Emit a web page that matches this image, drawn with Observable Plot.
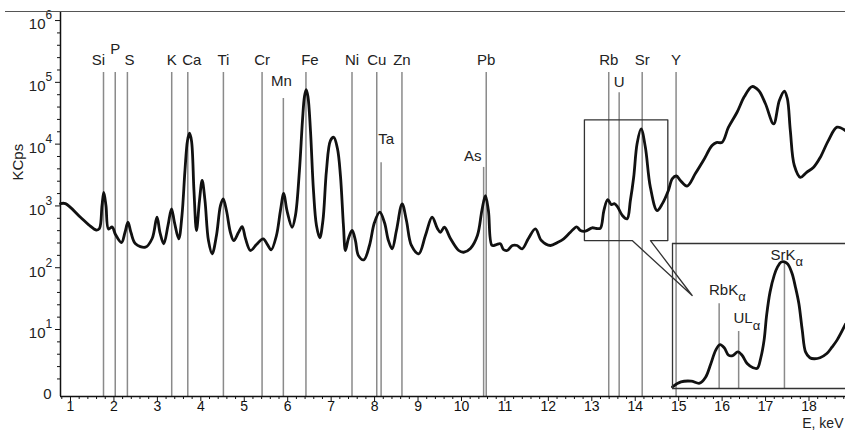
<!DOCTYPE html>
<html><head><meta charset="utf-8">
<script src="https://cdn.jsdelivr.net/npm/d3@7"></script>
<script src="https://cdn.jsdelivr.net/npm/@observablehq/plot@0.6"></script>
<style>
html,body{margin:0;padding:0;background:#fff;}
#chart{position:relative;width:845px;height:434px;overflow:hidden;font-family:"Liberation Sans",Arial,sans-serif;}
#topline{position:absolute;left:5px;top:11px;width:840px;height:0;border-top:1.5px solid #555;}
#inset{position:absolute;left:672px;top:243px;width:173px;height:145px;}
</style></head><body>
<div id="chart"><div id="topline"></div><div id="inset"></div></div>
<script>
// ---- main spectrum (keV, KCps) ----
const energy = [0.770,0.885,1.230,1.414,1.598,1.667,1.725,1.766,1.817,1.875,1.960,2.036,2.174,2.254,2.323,2.392,2.496,2.726,2.880,2.991,3.060,3.147,3.244,3.325,3.394,3.492,3.566,3.635,3.693,3.739,3.785,3.842,3.900,3.969,4.031,4.096,4.176,4.261,4.360,4.452,4.514,4.590,4.682,4.758,4.866,4.952,5.028,5.143,5.281,5.435,5.534,5.619,5.741,5.833,5.909,5.983,6.102,6.178,6.270,6.340,6.386,6.425,6.466,6.524,6.593,6.662,6.738,6.811,6.892,6.984,7.060,7.145,7.214,7.283,7.329,7.398,7.483,7.559,7.628,7.751,7.882,7.997,8.119,8.227,8.319,8.404,8.503,8.634,8.733,8.848,9.016,9.170,9.324,9.446,9.515,9.607,9.746,9.937,10.051,10.206,10.367,10.470,10.551,10.620,10.705,10.804,10.896,10.965,11.050,11.172,11.281,11.396,11.541,11.702,11.840,12.047,12.208,12.353,12.507,12.652,12.738,12.853,13.007,13.106,13.198,13.278,13.366,13.451,13.520,13.589,13.704,13.812,13.888,13.964,14.042,14.134,14.233,14.348,14.503,14.625,14.763,14.855,14.947,15.039,15.193,15.384,15.568,15.768,15.867,15.999,16.144,16.344,16.512,16.689,16.841,16.995,17.186,17.317,17.432,17.501,17.570,17.662,17.800,17.938,18.106,18.261,18.445,18.645,18.837];
const counts = [1090,1090,656,500,407,431,1010,1650,1010,423,456,344,256,371,545,371,244,215,297,656,371,244,482,898,538,294,700,3740,11400,15000,11400,1780,400,1220,2580,1220,275,168,332,1010,1300,843,371,275,371,464,297,190,237,294,237,195,332,843,1590,843,452,700,3740,24100,58900,76400,58900,16600,1780,482,305,581,3740,11400,12900,8490,3100,482,190,297,400,275,157,134,229,538,791,538,275,202,400,1080,581,229,168,332,656,431,375,452,297,190,178,205,332,843,1470,843,229,237,244,197,190,229,229,202,297,426,275,229,256,294,375,459,400,390,443,431,436,843,1260,1050,1090,977,700,618,1220,2910,10100,17700,8910,2010,843,1090,1780,2770,3050,2580,2100,3340,5430,9480,10600,10700,18600,32800,58900,85500,73600,45400,21300,50800,71800,54700,16600,4510,2910,3470,4230,6140,11400,18800,16600];

// ---- element lines ----
const elementNames  = ["Si","P","S","K","Ca","Ti","Cr","Mn","Fe","Ni","Cu","Ta","Zn","As","Pb","Rb","U","Sr","Y"];
const elementEnergy = [1.76,2.03,2.31,3.33,3.70,4.52,5.41,5.90,6.42,7.48,8.05,8.15,8.63,10.51,10.57,13.39,13.63,14.16,14.94];
const elementTop    = [144000,144000,144000,144000,144000,144000,144000,54700,144000,144000,144000,5000,144000,4200,144000,144000,68000,144000,144000];
const elementLabelY = [225000,350000,225000,225000,225000,225000,225000,104000,225000,225000,225000,11900,225000,6500,225000,225000,100000,225000,225000];

// ---- zoom window (keV, KCps) ----
const zoomE0 = 12.83, zoomE1 = 14.75, zoomGapE0 = 13.93, zoomGapE1 = 14.35, zoomTipE = 15.31;
const zoomC0 = 275, zoomC1 = 24700, zoomTipC = 35.5;

// ---- inset spectrum (keV, relative intensity) ----
const insetEnergy = [12.84,12.94,13.06,13.16,13.23,13.29,13.35,13.40,13.45,13.50,13.55,13.61,13.66,13.72,13.79,13.84,13.88,13.92,13.95,13.99,14.04,14.08,14.12,14.16,14.20,14.25,14.29,14.33,14.37,14.41,14.46,14.51,14.58,14.66,14.72,14.78,14.88];
const insetIntensity = [1.3,5.2,5.8,4.2,8.9,19.2,30.3,34.6,32.2,26.3,25.9,28.9,26.3,19.7,16.4,16.0,23.9,38.2,57.9,76.1,89.5,96.2,99.8,100,98.2,90.8,80.0,67.1,46.1,28.7,24.3,23.5,24.3,27.6,32.6,38.2,50.8];
const insetLineNames  = ["RbK","UL","SrK"];
const insetLineEnergy = [13.39,13.62,14.16];
const insetLineTop    = [67,45,100];
const insetLabelY     = [77.6,55.3,105.3];

// ---- axes ----
const xTicks = d3.range(1, 19);
const yExponents = [1,2,3,4,5,6];
const xDomain = [0.77, 18.84];
const yDomain = [0.824, 1.35e6];

const FONT = "'Liberation Sans', Arial, sans-serif";
const GRAY = "#8a8a8a";

const spectrum = energy.map((e, i) => ({e, c: counts[i]}));
const elements = elementNames.map((n, i) => ({n, e: elementEnergy[i], top: elementTop[i], ly: elementLabelY[i]}));
const labelDx = {Si: -5, S: 2, Ca: 4, Fe: 4, Mn: -2, Ta: 5, As: -11};
const zoomPath = [
  {e: zoomGapE0, c: zoomC0}, {e: zoomE0, c: zoomC0}, {e: zoomE0, c: zoomC1}, {e: zoomE1, c: zoomC1},
  {e: zoomE1, c: zoomC0}, {e: zoomGapE1, c: zoomC0}, {e: zoomTipE, c: zoomTipC}, {e: zoomGapE0, c: zoomC0}
];
const minorX = d3.range(0.8, 18.81, 0.2).filter(v => Math.abs(v - Math.round(v)) > 1e-6);
const minorY = [];
for (let k = 0; k < 6; k++) for (let j = 1; j < 5; j++) minorY.push(Math.pow(10, k + j / 5));
const majorY = yExponents.map(k => Math.pow(10, k));

const main = Plot.plot({
  width: 845, height: 434,
  marginLeft: 60, marginRight: 0, marginTop: 12, marginBottom: 38,
  style: {fontFamily: FONT, background: "transparent", overflow: "visible", color: "#111"},
  x: {domain: xDomain, axis: null},
  y: {type: "log", domain: yDomain, axis: null},
  marks: [
    Plot.ruleX(elements, {x: "e", y1: yDomain[0], y2: "top", stroke: GRAY, strokeWidth: 1.5}),
    Plot.line(zoomPath, {x: "e", y: "c", stroke: "#333", strokeWidth: 1.3}),
    Plot.line(spectrum, {x: "e", y: "c", curve: "catmull-rom", stroke: "#111", strokeWidth: 2.8}),
    ...elements.map(d => Plot.text([d], {x: "e", y: "ly", text: "n", fontSize: 15, fill: "#222", dx: labelDx[d.n] || 0})),
    Plot.ruleY([yDomain[0]], {stroke: "#111", strokeWidth: 1.5}),
    Plot.ruleX([xDomain[0]], {stroke: "#111", strokeWidth: 1.5}),
    Plot.axisX({ticks: xTicks, tickSize: 5, tickPadding: 0, fontSize: 14, tickFormat: d => String(d), label: null}),
    Plot.axisX({ticks: minorX, tickSize: 3, tickFormat: () => "", label: null}),
    Plot.axisY({ticks: majorY, tickSize: 5, tickFormat: () => "", label: null}),
    Plot.axisY({ticks: minorY, tickSize: 3, tickFormat: () => "", label: null}),
    Plot.text(yExponents, {x: xDomain[0], y: k => Math.pow(10, k), text: () => "10", textAnchor: "end", dx: -15, dy: 4, fontSize: 15, fill: "#222"}),
    Plot.text(yExponents, {x: xDomain[0], y: k => Math.pow(10, k), text: k => String(k), textAnchor: "start", dx: -15, dy: -5, fontSize: 12, fill: "#222"}),
    Plot.text(["0"], {x: xDomain[0], y: yDomain[0], text: d => d, textAnchor: "end", dx: -9, dy: -2, fontSize: 15, fill: "#222"}),
    Plot.text(["KCps"], {frameAnchor: "left", text: d => d, rotate: -90, dx: -42, dy: -24, fontSize: 15, fill: "#222"}),
    Plot.text(["E, keV"], {frameAnchor: "bottom-right", text: d => d, textAnchor: "end", dx: -2, dy: 31, fontSize: 14, fill: "#222"})
  ]
});
document.getElementById("chart").insertBefore(main, document.getElementById("topline"));

const insetData = insetEnergy.map((e, i) => ({e, v: insetIntensity[i]}));
const insetLines = insetLineNames.map((n, i) => ({n, e: insetLineEnergy[i], top: insetLineTop[i], ly: insetLabelY[i]}));
const insetDx = {RbK: 19, UL: 14, SrK: 11};
const insetX = [12.84, 14.88], insetY = [0, 114.5];
const inset = Plot.plot({
  width: 173, height: 145, margin: 0,
  style: {fontFamily: FONT, background: "transparent", overflow: "visible"},
  x: {domain: insetX, axis: null},
  y: {domain: insetY, axis: null},
  marks: [
    Plot.ruleX(insetLines, {x: "e", y1: 0, y2: "top", stroke: GRAY, strokeWidth: 1.5}),
    Plot.line(insetData, {x: "e", y: "v", curve: "catmull-rom", stroke: "#111", strokeWidth: 2.8}),
    Plot.ruleX([insetX[0]], {stroke: "#333", strokeWidth: 1.3}),
    Plot.ruleY([insetY[0]], {stroke: "#333", strokeWidth: 1.3}),
    Plot.ruleY([insetY[1]], {stroke: "#333", strokeWidth: 1.3}),
    ...insetLines.map(d => Plot.text([d], {x: "e", y: "ly", text: "n", textAnchor: "end", dx: insetDx[d.n], fontSize: 15, fill: "#222"})),
    ...insetLines.map(d => Plot.text([d], {x: "e", y: "ly", text: () => "α", textAnchor: "start", dx: insetDx[d.n], dy: 7, fontSize: 13, fill: "#222"}))
  ]
});
document.getElementById("inset").appendChild(inset);
</script>
</body></html>
